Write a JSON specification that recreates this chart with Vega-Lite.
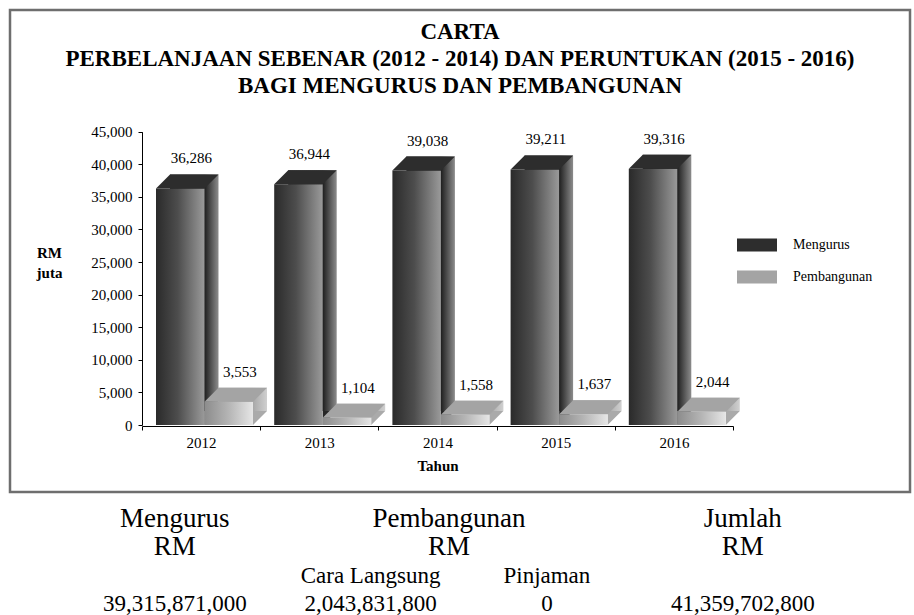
{
  "$schema": "https://vega.github.io/schema/vega-lite/v6.json",
  "background": "white",
  "padding": {"left": 8, "top": 8, "right": 0, "bottom": 0},
  "autosize": {"type": "pad"},
  "config": {"font": "Liberation Serif", "view": {"stroke": null}},
  "spacing": 6,
  "vconcat": [
    {
      "width": 900,
      "height": 482,
      "view": {"stroke": "#6e6e6e", "strokeWidth": 2.5},
      "title": {
        "text": ["CARTA", "PERBELANJAAN SEBENAR (2012 - 2014) DAN PERUNTUKAN (2015 - 2016)", "BAGI MENGURUS DAN PEMBANGUNAN"],
        "anchor": "middle",
        "frame": "group",
        "font": "Liberation Serif",
        "fontSize": 23,
        "fontWeight": "bold",
        "lineHeight": 27,
        "color": "black",
        "offset": -88
      },
      "data": {
        "values": [
          {"year": "2012", "series": "Mengurus", "value": 36286},
          {"year": "2013", "series": "Mengurus", "value": 36944},
          {"year": "2014", "series": "Mengurus", "value": 39038},
          {"year": "2015", "series": "Mengurus", "value": 39211},
          {"year": "2016", "series": "Mengurus", "value": 39316},
          {"year": "2012", "series": "Pembangunan", "value": 3553},
          {"year": "2013", "series": "Pembangunan", "value": 1104},
          {"year": "2014", "series": "Pembangunan", "value": 1558},
          {"year": "2015", "series": "Pembangunan", "value": 1637},
          {"year": "2016", "series": "Pembangunan", "value": 2044}
        ]
      },
      "encoding": {
        "x": {
          "field": "year",
          "type": "nominal",
          "scale": {"range": [132, 723], "paddingInner": 0, "paddingOuter": 0},
          "title": "Tahun",
          "axis": {
            "orient": "bottom",
            "offset": -66,
            "labelAngle": 0,
            "tickBand": "extent",
            "tickSize": 4,
            "labelPadding": 5,
            "labelFontSize": 15,
            "labelColor": "black",
            "domainColor": "black",
            "tickColor": "black",
            "titleFontSize": 15,
            "titleFontWeight": "bold",
            "titleColor": "black",
            "titlePadding": 8
          }
        },
        "y": {
          "field": "value",
          "type": "quantitative",
          "scale": {"domain": [0, 45000], "range": [415, 121.7], "nice": false},
          "title": ["RM", "juta"],
          "axis": {
            "values": [0, 5000, 10000, 15000, 20000, 25000, 30000, 35000, 40000, 45000],
            "format": ",.0f",
            "offset": -132,
            "grid": false,
            "tickSize": 4,
            "labelPadding": 6,
            "labelFontSize": 15,
            "labelColor": "black",
            "domainColor": "black",
            "tickColor": "black",
            "titleAngle": 0,
            "titleAlign": "center",
            "titleBaseline": "top",
            "titleX": -93,
            "titleY": 235,
            "titleFontSize": 15,
            "titleFontWeight": "bold",
            "titleColor": "black",
            "titleLineHeight": 20
          }
        }
      },
      "layer": [
        {
          "transform": [{"filter": "datum.series === 'Mengurus'"}],
          "mark": {
            "type": "bar", "width": 48.5, "xOffset": -6.85, "yOffset": -14, "y2Offset": -14,
            "color": {"gradient": "linear", "x1": 0, "y1": 0, "x2": 1, "y2": 0,
              "stops": [{"offset": 0, "color": "#1e1e1e"}, {"offset": 0.71, "color": "#1e1e1e"}, {"offset": 1, "color": "#8c8c8c"}]}
          }
        },
        {
          "transform": [{"filter": "datum.series === 'Pembangunan'"}],
          "mark": {
            "type": "bar", "width": 48.5, "xOffset": 41.65, "yOffset": -14, "y2Offset": -14,
            "color": {"gradient": "linear", "x1": 0, "y1": 0, "x2": 1, "y2": 0,
              "stops": [{"offset": 0, "color": "#a8a8a8"}, {"offset": 0.71, "color": "#a8a8a8"}, {"offset": 1, "color": "#d0d0d0"}]}
          }
        },
        {
          "transform": [{"filter": "datum.series === 'Mengurus'"}],
          "mark": {"type": "point", "shape": "M3.4,-14L17.4,-14L3.4,0Z", "size": 4, "filled": true, "opacity": 1, "strokeWidth": 0, "color": "#262626"},
          "encoding": {"y": {"datum": 0}}
        },
        {
          "transform": [{"filter": "datum.series === 'Pembangunan'"}],
          "mark": {"type": "point", "shape": "M51.9,-14L65.9,-14L51.9,0Z", "size": 4, "filled": true, "opacity": 1, "strokeWidth": 0, "color": "#aaaaaa"},
          "encoding": {"y": {"datum": 0}}
        },
        {
          "transform": [{"filter": "datum.series === 'Mengurus'"}],
          "mark": {
            "type": "bar", "width": 48.5, "xOffset": -20.85,
            "color": {"gradient": "linear", "x1": 0, "y1": 0, "x2": 1, "y2": 0,
              "stops": [{"offset": 0, "color": "#2a2a2a"}, {"offset": 0.45, "color": "#4d4d4d"}, {"offset": 1, "color": "#9a9a9a"}]}
          }
        },
        {
          "transform": [{"filter": "datum.series === 'Pembangunan'"}],
          "mark": {
            "type": "bar", "width": 48.5, "xOffset": 27.65,
            "color": {"gradient": "linear", "x1": 0, "y1": 0, "x2": 1, "y2": 0,
              "stops": [{"offset": 0, "color": "#8c8c8c"}, {"offset": 0.5, "color": "#b5b5b5"}, {"offset": 1, "color": "#e6e6e6"}]}
          }
        },
        {
          "transform": [{"filter": "datum.series === 'Mengurus'"}],
          "mark": {"type": "point", "shape": "M-45.1,0L3.4,0L17.4,-14L-31.1,-14Z", "size": 4, "filled": true, "opacity": 1, "strokeWidth": 0},
          "encoding": {
            "fill": {
              "field": "series",
              "type": "nominal",
              "scale": {"domain": ["Mengurus", "Pembangunan"], "range": ["#2d2d2d", "#a4a4a4"]},
              "legend": {
                "orient": "none",
                "legendX": 740,
                "legendY": 228,
                "title": null,
                "padding": 0,
                "symbolType": "M-20,-6.5L20,-6.5L20,6.5L-20,6.5Z",
                "symbolSize": 4,
                "symbolStrokeWidth": 0,
                "symbolOpacity": 1,
                "labelOffset": 29,
                "labelFontSize": 14,
                "labelColor": "black",
                "labelFont": "Liberation Serif",
                "rowPadding": 18
              }
            }
          }
        },
        {
          "transform": [{"filter": "datum.series === 'Pembangunan'"}],
          "mark": {"type": "point", "shape": "M3.4,0L51.9,0L65.9,-14L17.4,-14Z", "size": 4, "filled": true, "opacity": 1, "strokeWidth": 0},
          "encoding": {
            "fill": {
              "field": "series",
              "type": "nominal",
              "scale": {"domain": ["Mengurus", "Pembangunan"], "range": ["#2d2d2d", "#a4a4a4"]}
            }
          }
        },
        {
          "transform": [{"filter": "datum.series === 'Mengurus'"}],
          "mark": {"type": "text", "dx": -9.85, "dy": -25, "baseline": "alphabetic", "fontSize": 15, "font": "Liberation Serif", "color": "black"},
          "encoding": {"text": {"field": "value", "type": "quantitative", "format": ","}}
        },
        {
          "transform": [{"filter": "datum.series === 'Pembangunan'"}],
          "mark": {"type": "text", "dx": 38.65, "dy": -25, "baseline": "alphabetic", "fontSize": 15, "font": "Liberation Serif", "color": "black"},
          "encoding": {"text": {"field": "value", "type": "quantitative", "format": ","}}
        }
      ]
    },
    {
      "width": 900,
      "height": 100,
      "view": {"stroke": null},
      "data": {
        "values": [
          {"label": "Mengurus", "col": "A", "row": "r1"},
          {"label": "Pembangunan", "col": "B", "row": "r1"},
          {"label": "Jumlah", "col": "D", "row": "r1"},
          {"label": "RM", "col": "A", "row": "r2"},
          {"label": "RM", "col": "B", "row": "r2"},
          {"label": "RM", "col": "D", "row": "r2"},
          {"label": "Cara Langsung", "col": "B1", "row": "r3"},
          {"label": "Pinjaman", "col": "B2", "row": "r3"},
          {"label": "39,315,871,000", "col": "A", "row": "r4"},
          {"label": "2,043,831,800", "col": "B1", "row": "r4"},
          {"label": "0", "col": "B2", "row": "r4"},
          {"label": "41,359,702,800", "col": "D", "row": "r4"}
        ]
      },
      "encoding": {
        "x": {
          "field": "col",
          "type": "ordinal",
          "scale": {
            "type": "point",
            "padding": 0,
            "domain": ["A", "s1", "s2", "s3", "s4", "s5", "s6", "s7", "s8", "s9", "B1", "s11", "s12", "s13", "B", "s15", "s16", "s17", "s18", "B2", "s20", "s21", "s22", "s23", "s24", "s25", "s26", "s27", "s28", "D"],
            "range": [164.75, 732.75]
          },
          "axis": null
        },
        "y": {"field": "row", "type": "ordinal", "scale": {"type": "point", "padding": 0, "domain": ["r1", "r2", "r3", "r4"], "range": [19, 104]}, "axis": null},
        "text": {"field": "label"}
      },
      "layer": [
        {
          "transform": [{"filter": "datum.row === 'r1' || datum.row === 'r2'"}],
          "mark": {"type": "text", "fontSize": 27, "font": "Liberation Serif", "baseline": "middle", "align": "center", "color": "black"}
        },
        {
          "transform": [{"filter": "datum.row === 'r3' || datum.row === 'r4'"}],
          "mark": {"type": "text", "fontSize": 23, "font": "Liberation Serif", "baseline": "middle", "align": "center", "color": "black"}
        }
      ]
    }
  ]
}
